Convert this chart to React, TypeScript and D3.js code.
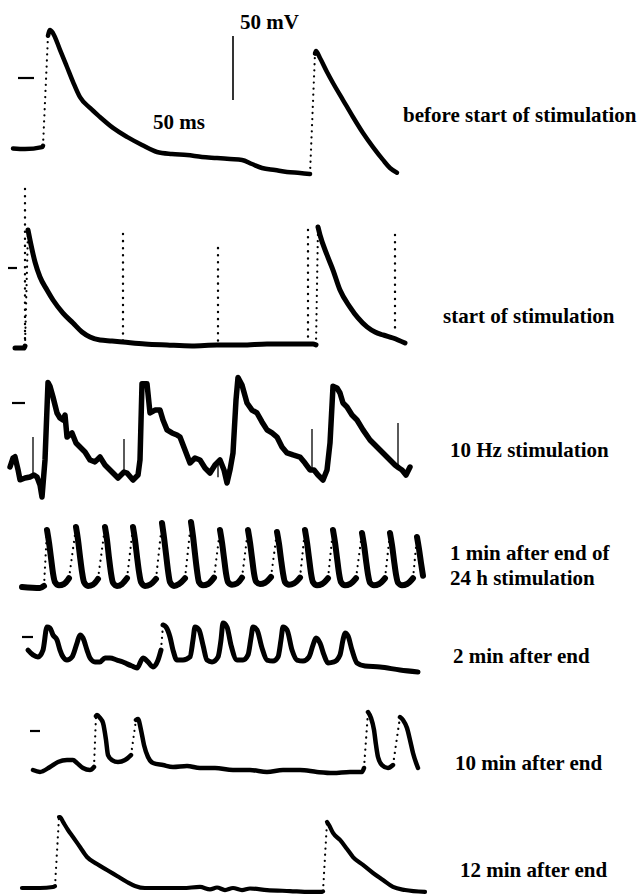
import React from "react";
import * as d3 from "d3";

// membrane potential traces, [time ms, mV]
const trace1: [number, number][] = [
  [3, -55], [15, -55.5], [32, -54], [33, -53], [38, 33], [40, 37.5], [43, 35], [50, 22], [57, 8.6], [63, -3],
  [70, -15], [80, -23.4], [90, -30.5], [103, -39], [117, -46], [132, -52.3], [147, -57.8], [162, -59.4],
  [177, -60.2], [192, -61.7], [207, -62.5], [220, -63.3], [232, -64], [242, -67.2], [252, -70.3], [265, -71.9],
  [277, -73.4], [290, -74.2], [300, -75], [305, 19], [306, 21], [310, 15.6], [317, 4.7], [323, -3.9],
  [333, -17.2], [343, -30.5], [353, -43], [363, -54], [373, -64], [380, -70.3], [387, -74],
];

const trace2: [number, number][] = [
  [5, -62.5], [14, -62.5], [15, -61], [18, 29.7], [20, 21.9], [25, 4.7], [30, -7], [37, -17.2], [43, -25],
  [53, -35.2], [63, -43], [72, -50], [80, -53.9], [90, -56.3], [102, -57], [113, -57.8], [135, -59.4],
  [157, -60.2], [182, -60.9], [207, -60.2], [232, -60.2], [257, -59.4], [280, -59.4], [303, -59.4], [306, -60],
  [308, 32], [310, 25.8], [317, 10.2], [323, -1.6], [330, -17.2], [340, -30.5], [348, -39], [357, -46],
  [365, -50], [373, -52.3], [383, -54.7], [395, -58.6],
];

// stimulus artifacts in trace 2: [time, top mV, bottom mV]
const artifacts2: [number, number, number][] = [
  [15, 61.7, -62], [113, 26.6, -57], [208, 15.6, -60], [298, 29.7, -59], [385, 25.8, -47],
];

const trace3: [number, number][] = [
  [0, -50], [3, -43], [5, -42], [8, -52], [10, -60], [15, -58.6], [20, -57.8], [24, -56.3], [27, -57.8],
  [30, -64], [32, -73.4], [35, -44.5], [38, 16], [40, 13], [43, 4.7], [47, -7.8], [50, -11.7], [53, -13.3],
  [55, -9.4], [57, -26.6], [62, -23.4], [66, -31.3], [70, -34.4], [75, -38.3], [80, -44.5], [85, -46],
  [90, -42.2], [95, -48.4], [100, -52.3], [103, -54.7], [108, -58.6], [114, -53.9], [117, -54.7], [123, -60.2],
  [128, -56.3], [130, -44.5], [132, 15], [137, 15], [140, -7.8], [145, -5.5], [150, -5.5], [153, -13.3],
  [157, -21], [162, -23.4], [167, -25], [170, -26.6], [175, -36.7], [180, -46.9], [185, -43], [190, -44.5],
  [195, -50.8], [200, -54.7], [205, -48.4], [210, -44.5], [214, -52.3], [217, -62.5], [220, -52.3], [223, -39],
  [226, 2.3], [228, 20], [232, 14], [237, 0], [242, -5.5], [247, -7.8], [252, -14.8], [257, -21], [262, -23.4],
  [267, -26.6], [272, -34.4], [277, -39], [283, -40.6], [290, -42.2], [295, -46.9], [300, -52.3], [304, -52.3],
  [308, -56.3], [313, -60.2], [317, -52.3], [320, -31.3], [323, 13], [327, 11.7], [330, 7.8], [333, 0],
  [337, -3.1], [342, -9.4], [347, -13.3], [353, -21], [360, -28.9], [365, -32.8], [370, -36.7], [375, -40.6],
  [380, -44.5], [385, -48.4], [389, -50.8], [392, -52.3], [396, -56.3], [400, -50],
];

// thin spikes in trace 3: [time, top mV, bottom mV]
const spikes3: [number, number, number][] = [
  [23, -26.6, -57], [114, -28.1, -55], [208, -44.5, -58], [302, -20.3, -52], [388, -15.6, -50],
];

const trace4: [number, number][] = [
  [12, -32.8], [30, -33.6], [34, -32],
  [37, 11.7], [39, 2], [41, -10], [43, -22], [45, -29], [49, -31.5], [54, -30.5], [59, -26],
  [66, 14], [68, 4], [70, -9], [72, -21], [74, -29], [78, -32], [83, -31], [88, -26.5],
  [95, 14], [97, 4], [99, -10], [101, -22], [103, -29.5], [107, -32], [112, -30.5], [117, -26],
  [123, 14], [125, 4], [127, -9], [129, -21], [131, -29], [135, -32], [140, -31], [146, -26.5],
  [152, 17.2], [154, 6], [156, -7], [158, -20], [160, -29], [164, -32], [169, -30.5], [175, -26],
  [181, 18], [183, 7], [185, -7], [187, -20], [189, -29], [193, -31.5], [198, -30.5], [204, -25.5],
  [210, 11.7], [212, 2], [214, -10], [216, -22], [218, -29], [222, -31], [227, -30], [232, -25.5],
  [238, 11.7], [240, 2], [242, -10], [244, -22], [246, -28.5], [250, -30.5], [255, -29.5], [261, -25],
  [267, 10.2], [269, 1], [271, -11], [273, -22], [275, -29], [279, -31], [284, -30], [290, -25.5],
  [295, 11.7], [297, 2], [299, -10], [301, -22], [303, -29], [307, -31.5], [312, -30.5], [318, -26],
  [323, 11.7], [325, 2], [327, -10], [329, -22], [331, -29], [335, -31.5], [340, -30.5], [346, -26],
  [352, 9.4], [354, 0], [356, -12], [358, -23], [360, -29.5], [364, -31.5], [369, -30.5], [375, -26],
  [380, 9.4], [382, 0], [384, -12], [386, -23], [388, -29.5], [392, -31.5], [397, -30.5], [403, -26],
  [407, 6.3], [409, -3], [411, -14], [413, -24],
];

const trace5: [number, number][] = [
  [18, -10.2], [23, -14], [28, -15.6], [33, -10.2], [37, 7.8], [40, 7], [43, 1.6], [47, -2.3], [50, -10.2],
  [53, -15.6], [57, -18], [62, -15.6], [67, -4.7], [70, 1.6], [73, -0.8], [77, -10.2], [80, -16.4], [85, -19.5],
  [90, -19.5], [95, -16.4], [100, -16.4], [107, -18], [113, -19.5], [117, -21], [122, -22.7], [127, -24.2],
  [133, -16.4], [138, -19.5], [143, -23.4], [148, -18], [151, -10.2], [153, 9.4], [156, 7.8], [160, 0],
  [163, -10.2], [167, -18], [173, -18], [180, -15.6], [183, -2.3], [185, 7.8], [189, 5.5], [193, -6.3],
  [197, -18], [202, -19.5], [208, -15.6], [211, -2.3], [213, 10.9], [217, 7.8], [221, -6.3], [227, -18],
  [233, -18], [238, -14], [241, -0.8], [243, 7.8], [247, 5.5], [252, -8.6], [257, -18], [263, -18.8],
  [268, -15.6], [271, -2.3], [273, 7.8], [277, 5.5], [282, -10.2], [287, -18], [293, -18.8], [299, -15.6],
  [303, -6.3], [306, -0.8], [310, -4.7], [314, -14], [318, -20.3], [324, -19.5], [330, -14], [333, -2.3],
  [335, 3.1], [338, 0.8], [342, -10.2], [347, -20.3], [355, -22.7], [370, -23.4], [390, -25.8], [408, -27.3],
];

const trace6: [number, number][] = [
  [23, -30.5], [30, -32], [40, -28.1], [48, -24.2], [57, -22.7], [63, -22.7], [67, -25], [73, -28.9],
  [80, -30.5], [84, -28.1], [86, 11.7], [87, 12.5], [90, 10.2], [93, 6.3], [96, -7], [98, -18.8],
  [102, -22.7], [108, -24.2], [115, -22.7], [121, -18.8], [126, 8.6], [128, 9.4], [131, 0.8], [134, -10.9],
  [138, -20.3], [143, -25], [153, -26.6], [163, -28.1], [177, -27.3], [190, -28.9], [205, -28.9], [223, -30.5],
  [240, -30.5], [257, -32], [273, -30.5], [290, -30.5], [307, -32], [323, -32.8], [340, -32], [352, -32],
  [354, -28.9], [358, 14.8], [361, 10.2], [364, 0.8], [366, -10.9], [368, -20.3], [372, -26.6], [378, -28.9],
  [383, -26.6], [390, 10.9], [393, 8.6], [397, 2.3], [400, -7], [403, -17.2], [408, -28.9],
];

const trace7: [number, number][] = [
  [12, -41.4], [30, -41.4], [43, -40.6], [45, -40], [49, 14], [50, 14], [53, 10.2], [58, 3.9], [63, -1.6],
  [70, -9.4], [77, -17.2], [87, -22.7], [97, -27.3], [107, -32], [117, -36.7], [125, -39.8], [135, -41.4],
  [155, -41.4], [173, -41.4], [190, -40.6], [200, -42.5], [207, -41], [215, -43], [223, -41.4], [232, -43],
  [240, -41.8], [257, -43], [280, -43.8], [300, -44.5], [311, -44.5], [313, -44], [317, 10.2], [319, 7.8],
  [323, 1.6], [330, -3.9], [337, -10.9], [343, -17.2], [353, -23.4], [363, -29.7], [373, -35.2],
  [383, -40.6], [395, -43], [415, -44.5],
];

// 0 mV marks: [t start, t end] per trace (null = none)
const zeroMarks: ([number, number] | null)[] = [[8, 24], [-2, 7], [2, 15], null, [12, 23], [20, 30], null];

const labels: string[][] = [
  ["before start of stimulation"],
  ["start of stimulation"],
  ["10 Hz stimulation"],
  ["1 min after end of", "24 h stimulation"],
  ["2 min after end"],
  ["10 min after end"],
  ["12 min after end"],
];

const scaleBarMv = 50;
const scaleBarMs = 50;

const traces = [trace1, trace2, trace3, trace4, trace5, trace6, trace7];

// layout
const W = 637;
const H = 896;
const pxPerMv = 64 / 50;
const zeroY = [78, 268, 403, 545, 637, 731, 835];
const strokeW = [4.5, 5, 5.5, 6, 5, 4.5, 4.2];
const dotSlope = [6, 6, Infinity, 6, 10, 4, 6];
const labelPos: [number, number][] = [[403, 122], [443, 323], [450, 457], [450, 560], [453, 663], [455, 770], [460, 877]];
const lineGap = 25;

const x = d3.scaleLinear().domain([0, 420]).range([10, 430]);

function splitRuns(pts: [number, number][], y: d3.ScaleLinear<number, number>, slope: number) {
  const runs: [number, number][][] = [];
  const dots: [[number, number], [number, number]][] = [];
  let cur: [number, number][] = [pts[0]];
  for (let i = 1; i < pts.length; i++) {
    const a = pts[i - 1];
    const b = pts[i];
    const dx = Math.abs(x(b[0]) - x(a[0]));
    const rise = y(a[1]) - y(b[1]);
    if (rise > 20 && rise > slope * dx) {
      dots.push([a, b]);
      if (cur.length > 1) runs.push(cur);
      cur = [b];
    } else {
      cur.push(b);
    }
  }
  if (cur.length > 1) runs.push(cur);
  return { runs, dots };
}

const font = "'Liberation Serif', 'Times New Roman', serif";

export default function App() {
  return (
    <svg width={W} height={H} style={{ position: "absolute", left: 0, top: 0, background: "#fff" }}>
      {traces.map((tr, i) => {
        const y = d3.scaleLinear().domain([0, 50]).range([zeroY[i], zeroY[i] - 50 * pxPerMv]);
        // noisy 10 Hz trace stays jagged, the rest is smoothed
        const line = d3.line<[number, number]>().x(d => x(d[0])).y(d => y(d[1]))
          .curve(i === 2 ? d3.curveLinear : d3.curveMonotoneX);
        const { runs, dots } = splitRuns(tr, y, dotSlope[i]);
        const zm = zeroMarks[i];
        return (
          <g key={i}>
            {zm && (
              <line x1={x(zm[0])} x2={x(zm[1])} y1={y(0)} y2={y(0)} stroke="#000" strokeWidth={2.2} />
            )}
            {runs.map((r, j) => (
              <path key={j} d={line(r) ?? ""} fill="none" stroke="#000" strokeWidth={strokeW[i]}
                strokeLinejoin="round" strokeLinecap="round" />
            ))}
            {dots.map(([a, b], j) => (
              <line key={"d" + j} x1={x(a[0])} y1={y(a[1])} x2={x(b[0])} y2={y(b[1])}
                stroke="#000" strokeWidth={2.2} strokeLinecap="round" strokeDasharray="0.1 6" />
            ))}
            {i === 1 && artifacts2.map(([t, top, bot], j) => (
              <line key={"a" + j} x1={x(t)} x2={x(t)} y1={y(top)} y2={y(bot)} stroke="#000"
                strokeWidth={2.4} strokeLinecap="round" strokeDasharray="0.1 7" />
            ))}
            {i === 2 && spikes3.map(([t, top, bot], j) => (
              <line key={"s" + j} x1={x(t)} x2={x(t)} y1={y(top)} y2={y(bot)} stroke="#000" strokeWidth={1.3} />
            ))}
            {labels[i].map((s, j) => (
              <text key={"l" + j} x={labelPos[i][0]} y={labelPos[i][1] + j * lineGap} fontFamily={font}
                fontSize={21} fontWeight="bold" fill="#000">{s}</text>
            ))}
          </g>
        );
      })}
      {/* scale bar */}
      {(() => {
        const y = d3.scaleLinear().domain([0, scaleBarMv]).range([100, 100 - scaleBarMv * pxPerMv]);
        return (
          <g>
            <line x1={233} x2={233} y1={y(0)} y2={y(scaleBarMv)} stroke="#000" strokeWidth={1.6} />
            <text x={240} y={29} fontFamily={font} fontSize={21} fontWeight="bold">{scaleBarMv} mV</text>
            <text x={153} y={129} fontFamily={font} fontSize={21} fontWeight="bold">{scaleBarMs} ms</text>
          </g>
        );
      })()}
    </svg>
  );
}
